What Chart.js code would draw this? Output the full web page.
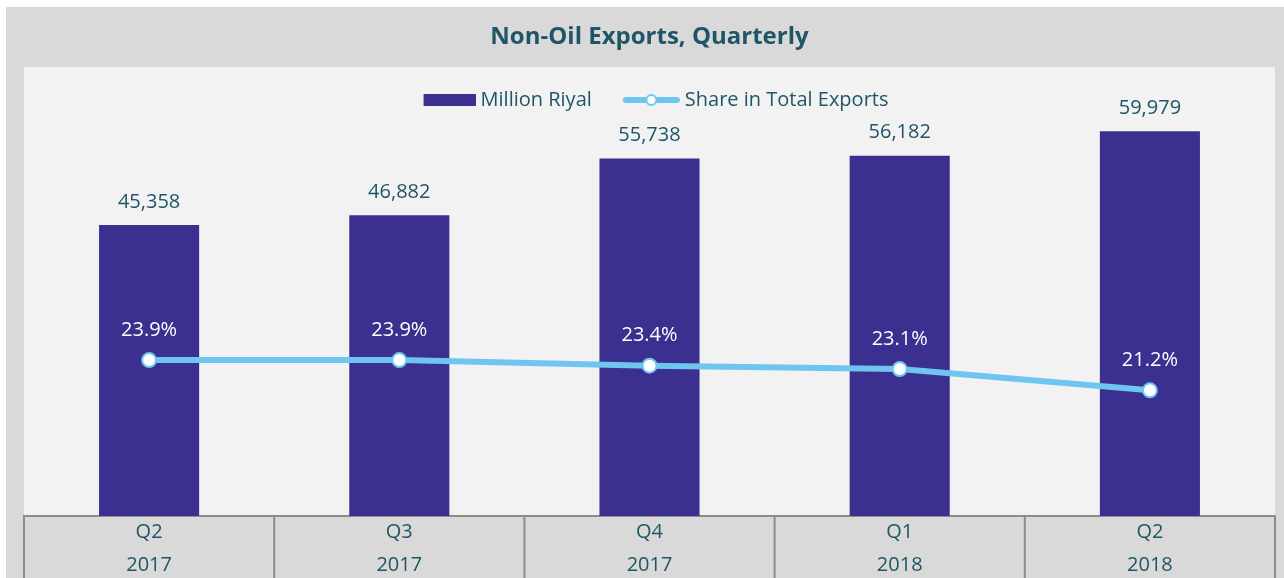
<!DOCTYPE html>
<html>
<head>
<meta charset="utf-8">
<script src="https://cdn.jsdelivr.net/npm/chart.js@4"></script>
<style>
  html, body { margin: 0; padding: 0; background: #fff; overflow: hidden; }
  #wrap { position: absolute; left: 6px; top: 7px; width: 1278px; height: 575px; background: #d9d9d9; }
</style>
</head>
<body>
<div id="wrap"><canvas id="myChart"></canvas></div>
<script>
const quarters = [["Q2", "2017"], ["Q3", "2017"], ["Q4", "2017"], ["Q1", "2018"], ["Q2", "2018"]];
const millionRiyal = [45358, 46882, 55738, 56182, 59979];
const shareOfTotal = [23.9, 23.9, 23.4, 23.1, 21.2];

const teal = "#1f5566";
const barColor = "#3b2f8f";
const lineColor = "#6ec5ef";
const cellLine = "#8c8c8c";

Chart.defaults.font.family = "'Open Sans', sans-serif";

// legend swatches
function barSwatch() {
  const c = document.createElement("canvas");
  c.width = 70; c.height = 14;
  const g = c.getContext("2d");
  g.fillStyle = barColor;
  g.fillRect(18, 1, 52, 12);
  return c;
}
function lineSwatch() {
  const c = document.createElement("canvas");
  c.width = 70; c.height = 16;
  const g = c.getContext("2d");
  g.strokeStyle = lineColor;
  g.lineWidth = 6;
  g.lineCap = "round";
  g.beginPath(); g.moveTo(16, 8); g.lineTo(67, 8); g.stroke();
  g.fillStyle = "#fff";
  g.lineWidth = 2;
  g.beginPath(); g.arc(41.5, 8, 5, 0, Math.PI * 2); g.fill(); g.stroke();
  return c;
}
const swatches = [barSwatch(), lineSwatch()];

// light plot panel, from the legend down to the axis
const plotBackground = {
  id: "plotBackground",
  beforeDraw(chart) {
    const a = chart.chartArea;
    const top = chart.legend.top;
    chart.ctx.save();
    chart.ctx.fillStyle = "#f2f2f2";
    chart.ctx.fillRect(a.left, top, a.right - a.left, a.bottom - top);
    chart.ctx.restore();
  }
};

// cell borders of the category table under the plot
const categoryCells = {
  id: "categoryCells",
  afterDraw(chart) {
    const xs = chart.scales.x;
    const ctx = chart.ctx;
    ctx.save();
    ctx.strokeStyle = cellLine;
    ctx.lineWidth = 2;
    for (let i = 0; i <= chart.data.labels.length; i++) {
      const px = xs.getPixelForValue(i - 0.5);
      ctx.beginPath();
      ctx.moveTo(px, xs.top);
      ctx.lineTo(px, chart.height);
      ctx.stroke();
    }
    ctx.restore();
  }
};

const valueLabels = {
  id: "valueLabels",
  afterDatasetsDraw(chart) {
    const ctx = chart.ctx;
    ctx.save();
    ctx.font = "20px 'Open Sans'";
    ctx.textAlign = "center";
    ctx.textBaseline = "middle";
    chart.data.datasets.forEach((ds, i) => {
      chart.getDatasetMeta(i).data.forEach((el, j) => {
        if (ds.type === "bar") {
          ctx.fillStyle = teal;
          ctx.fillText(ds.data[j].toLocaleString("en-US"), el.x, el.y - 23);
        } else {
          ctx.fillStyle = "#fff";
          ctx.fillText(ds.data[j].toFixed(1) + "%", el.x, el.y - 30);
        }
      });
    });
    ctx.restore();
  }
};

new Chart(document.getElementById("myChart"), {
  data: {
    labels: quarters,
    datasets: [
      {
        type: "bar",
        label: "Million Riyal",
        data: millionRiyal,
        backgroundColor: barColor,
        barPercentage: 0.4,
        categoryPercentage: 1,
        yAxisID: "y",
        order: 2
      },
      {
        type: "line",
        label: "Share in Total Exports",
        data: shareOfTotal,
        borderColor: lineColor,
        borderWidth: 6,
        pointRadius: 7,
        pointBorderWidth: 2,
        pointBackgroundColor: "#fff",
        pointBorderColor: lineColor,
        tension: 0,
        yAxisID: "y1",
        order: 1
      }
    ]
  },
  options: {
    responsive: true,
    maintainAspectRatio: false,
    animation: false,
    layout: { padding: { left: 18, right: 9, top: 0, bottom: 0 } },
    scales: {
      x: {
        offset: true,
        grid: { display: false, drawTicks: false },
        border: { display: true, color: cellLine, width: 2 },
        ticks: { padding: 0, color: teal, maxRotation: 0, autoSkip: false, font: { size: 20, lineHeight: 1.65 } }
      },
      y: { display: false, min: 0, max: 61750 },
      y1: { display: false, position: "right", min: 10, max: 45.3 }
    },
    plugins: {
      title: {
        display: true,
        text: "Non-Oil Exports, Quarterly",
        color: teal,
        font: { size: 24, weight: "bold" },
        padding: { top: 15.6, bottom: 15.6 }
      },
      legend: {
        position: "top",
        align: "center",
        labels: {
          usePointStyle: true,
          pointStyleWidth: 60,
          padding: 23,
          color: teal,
          font: { size: 20 },
          sort: (a, b) => a.datasetIndex - b.datasetIndex,
          generateLabels(chart) {
            const items = Chart.defaults.plugins.legend.labels.generateLabels(chart);
            items.forEach(it => { it.pointStyle = swatches[it.datasetIndex]; });
            return items;
          }
        }
      },
      tooltip: { enabled: false }
    }
  },
  plugins: [plotBackground, categoryCells, valueLabels]
});
</script>
</body>
</html>
